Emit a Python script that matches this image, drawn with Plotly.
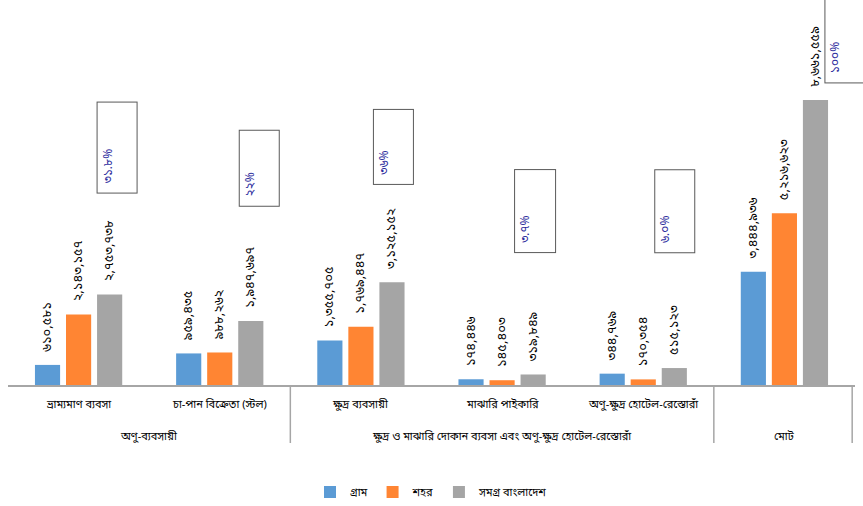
import plotly.graph_objects as go

# ---------------- data ----------------
categories = ["ভ্রাম্যমাণ ব্যবসা", "চা-পান বিক্রেতা (স্টল)", "ক্ষুদ্র ব্যবসায়ী",
              "মাঝারি পাইকারি", "অণু-ক্ষুদ্র হোটেল-রেস্তোরাঁ", "মোট"]
tick_labels = ["ভ্রাম্যমাণ ব্যবসা", "চা-পান বিক্রেতা (স্টল)", "ক্ষুদ্র ব্যবসায়ী",
               "মাঝারি পাইকারি", "অণু-ক্ষুদ্র হোটেল-রেস্তোরাঁ", ""]
group_labels = ["অণু-ব্যবসায়ী",
                "ক্ষুদ্র ও মাঝারি দোকান ব্যবসা এবং অণু-ক্ষুদ্র হোটেল-রেস্তোরাঁ",
                "মোট"]
group_sizes = [2, 3, 1]
series_names = ["গ্রাম", "শহর", "সমগ্র বাংলাদেশ"]
rural = [610581, 959435, 1355705, 174446, 344769, 3444936]
urban = [2143157, 988262, 1769447, 145403, 170354, 5216623]
national = [2753738, 1947697, 3125152, 319849, 515123, 8661559]
share_labels = ["৩১.৮%", "২২%", "৩৬%", "৩.৭%", "৬.০%", "১০০%"]

# ---------------- styling ----------------
FONT = "Noto Sans Bengali, Lohit Bengali, Vrinda, sans-serif"
colors = ["#5B9BD5", "#FF8533", "#A5A5A5"]
BN = str.maketrans("0123456789", "০১২৩৪৫৬৭৮৯")
NB = "\u00a0"


def bn_num(v):
    return f"{v:,}".translate(BN)


fig = go.Figure()
for name, vals, col in zip(series_names, [rural, urban, national], colors):
    fig.add_trace(go.Bar(
        x=categories, y=vals, name=name,
        marker=dict(color=col, line=dict(width=0)),
        text=[NB * 3 + bn_num(v) for v in vals],
        textposition="outside", textangle=-90, cliponaxis=False,
        constraintext="none",
        textfont=dict(family=FONT, size=13, color="#000000"),
        hoverinfo="skip",
    ))

# share boxes (screen geometry: x offset from category centre, y centre px from top, box w/h)
box_geo = [(38, 148, 41, 92), (39, 168, 41, 77), (32, 147, 41, 76),
           (33, 211, 42, 84), (31, 211, 41, 84), (62, 36, 44, 94)]
PLOT_H = 385
pad, bw = 3, 1
for cat, lab, (dx, yc, w, h) in zip(categories, share_labels, box_geo):
    fig.add_annotation(
        x=cat, xref="x", xshift=dx,
        y=(PLOT_H - yc) / PLOT_H, yref="paper", yanchor="middle", xanchor="center",
        text=NB * 2 + lab, showarrow=False, textangle=-90,
        width=h - 2 * (pad + bw), height=w - 2 * (pad + bw),
        align="left", valign="top", borderpad=pad, borderwidth=bw,
        bordercolor="#595959", bgcolor="rgba(255,255,255,0)",
        font=dict(family=FONT, size=12, color="#2E2E9E"),
    )

# inner category labels
for cat, lab in zip(categories, tick_labels):
    if lab:
        fig.add_annotation(x=cat, xref="x", y=0, yref="paper", yshift=-20,
                           yanchor="middle", text=lab, showarrow=False,
                           font=dict(family=FONT, size=11, color="#000000"))

# outer group labels and dividers
start = 0
for lab, n in zip(group_labels, group_sizes):
    centre = start + (n - 1) / 2
    fig.add_annotation(x=centre, xref="x", y=0, yref="paper", yshift=-52,
                       yanchor="middle", text=lab, showarrow=False,
                       font=dict(family=FONT, size=11, color="#000000"))
    end = min(start + n - 0.5, len(categories) - 0.52)
    fig.add_shape(type="line", xref="x", yref="paper",
                  x0=end, x1=end, y0=0, y1=-58 / PLOT_H,
                  line=dict(color="#A6A6A6", width=1.5))
    start += n

fig.update_layout(
    width=863, height=506,
    margin=dict(l=8, r=8, t=0, b=121, autoexpand=False),
    paper_bgcolor="white", plot_bgcolor="white",
    barmode="group", bargap=0.34, bargroupgap=0.19,
    font=dict(family=FONT, size=12, color="#000000"),
    showlegend=True,
    legend=dict(orientation="h", x=0.5, xanchor="center",
                y=(PLOT_H - 492) / PLOT_H, yanchor="middle",
                font=dict(family=FONT, size=11), itemwidth=30,
                traceorder="normal"),
    xaxis=dict(type="category", showticklabels=False, showline=True,
               range=[-0.5, len(categories) - 0.5], autorange=False,
               linecolor="#A6A6A6", linewidth=1.5, ticks="",
               showgrid=False, zeroline=False, fixedrange=True),
    yaxis=dict(visible=False, range=[0, max(national) * PLOT_H / 285],
               showgrid=False, zeroline=False, fixedrange=True),
)

fig.write_html("out.html")
